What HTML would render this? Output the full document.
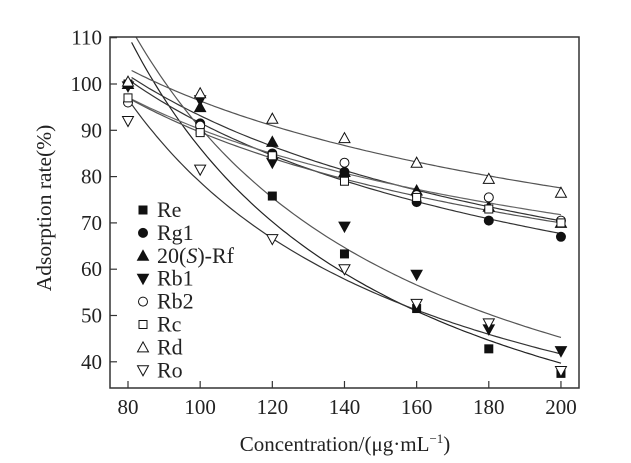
<!DOCTYPE html>
<html><head><meta charset="utf-8"><style>
body{margin:0;background:#fff;}
svg{display:block;font-family:"Liberation Serif",serif;}
</style></head><body>
<svg id="chart" width="631" height="463">
<defs><clipPath id="pc"><rect x="110" y="37" width="469" height="351"/></clipPath></defs>
<g id="curves" clip-path="url(#pc)"></g><g id="marks"></g>
<rect x="110" y="37" width="469" height="351" fill="none" stroke="#333" stroke-width="1.5"/>
<g id="axes" font-size="21" fill="#222"></g>
<text x="51" y="208" font-size="21.5" fill="#222" text-anchor="middle" transform="rotate(-90 51 208)">Adsorption rate(%)</text>
<text x="345" y="451" font-size="21" fill="#222" text-anchor="middle">Concentration/(μg·mL<tspan font-size="13" dy="-8">−1</tspan><tspan dy="8">)</tspan></text>
<g id="legend" font-size="22" fill="#222"></g>
</svg>
<script>
const categories=[80,100,120,140,160,180,200];
const seriesNames=["Re","Rg1","20(S)-Rf","Rb1","Rb2","Rc","Rd","Ro"];
const reVals=[100,90,75.8,63.3,51.5,42.8,37.5];
const rg1Vals=[100,91.5,85,81,74.5,70.5,67];
const rfVals=[100,95,87.5,81,77,73.5,70];
const rb1Vals=[99.5,96.5,83,69.2,58.8,47,42.3];
const rb2Vals=[96,91,84.5,83,76,75.5,70.5];
const rcVals=[97,89.5,84.5,79,75.5,73,70];
const rdVals=[100.5,98,92.5,88.3,83,79.5,76.5];
const roVals=[92,81.5,66.5,60,52.5,48.3,38];
const xTicks=[80,100,120,140,160,180,200];
const yTicks=[40,50,60,70,80,90,100,110];
const allVals=[reVals,rg1Vals,rfVals,rb1Vals,rb2Vals,rcVals,rdVals,roVals];
const markers=["sq","ci","tu","td","ci","sq","tu","td"];
const filled=[true,true,true,true,false,false,false,false];
const lineCol=["#222","#333","#333","#555","#666","#555","#555","#333"];
const NS="http://www.w3.org/2000/svg";
const X=v=>128+(v-80)*3.608, Y=v=>84+(100-v)*4.63;
function mk(t,a,p){const e=document.createElementNS(NS,t);for(const k in a)e.setAttribute(k,a[k]);p.appendChild(e);return e;}
function marker(kind,f,cx,cy,p){const s=4.5;const st={fill:f?"#111":"#fff",stroke:"#111","stroke-width":1};let e;
 if(kind==="sq")e=mk("rect",Object.assign({x:cx-s+0.5,y:cy-s+0.5,width:2*s-1,height:2*s-1},st),p);
 else if(kind==="ci")e=mk("circle",Object.assign({cx:cx,cy:cy,r:s},st),p);
 else if(kind==="tu")e=mk("polygon",Object.assign({points:`${cx-s-1},${cy+s} ${cx+s+1},${cy+s} ${cx},${cy-s-1}`},st),p);
 else e=mk("polygon",Object.assign({points:`${cx-s-1},${cy-s} ${cx+s+1},${cy-s} ${cx},${cy+s+1}`},st),p);
 return e;}
function powFit(xs,ys){let n=xs.length,sx=0,sy=0,sxx=0,sxy=0;xs.forEach((x,i)=>{const u=Math.log(x),w=Math.log(ys[i]);sx+=u;sy+=w;sxx+=u*u;sxy+=u*w;});
 const b=(n*sxy-sx*sy)/(n*sxx-sx*sx),a=(sy-b*sx)/n;return x=>Math.exp(a+b*Math.log(x));}
const curves=document.getElementById("curves"),marks=document.getElementById("marks");
allVals.forEach((vals,si)=>{const f=powFit(categories,vals);let d="";
 for(let x=81;x<=200;x+=1)d+=(x===81?"M":"L")+X(x).toFixed(1)+","+Y(f(x)).toFixed(1);
 const p=mk("path",{d:d,fill:"none",stroke:lineCol[si],"stroke-width":1.2},curves);
 
 
 vals.forEach((v,i)=>{const m=marker(markers[si],filled[si],X(categories[i]),Y(v),marks);
  
  });});
const axes=document.getElementById("axes");
xTicks.forEach(t=>{const l=mk("line",{x1:X(t),x2:X(t),y1:388,y2:381,stroke:"#333","stroke-width":1.2},axes);
 
 
 const tx=mk("text",{x:X(t),y:414,"text-anchor":"middle"},axes);tx.textContent=t;
 
 });
yTicks.forEach(t=>{const l=mk("line",{x1:110,x2:117,y1:Y(t),y2:Y(t),stroke:"#333","stroke-width":1.2},axes);
 
 
 const tx=mk("text",{x:102,y:Y(t)+7,"text-anchor":"end"},axes);tx.textContent=t;
 
 });
const leg=document.getElementById("legend");
seriesNames.forEach((n,i)=>{const y=210+i*22.9;const g=mk("g",{},leg);
 
 
 marker(markers[i],filled[i],143,y,g);
 const t=mk("text",{x:157,y:y+7},g);
 if(n==="20(S)-Rf"){t.innerHTML='20(<tspan font-style="italic">S</tspan>)-Rf';}else t.textContent=n;});
</script>
</body></html>
